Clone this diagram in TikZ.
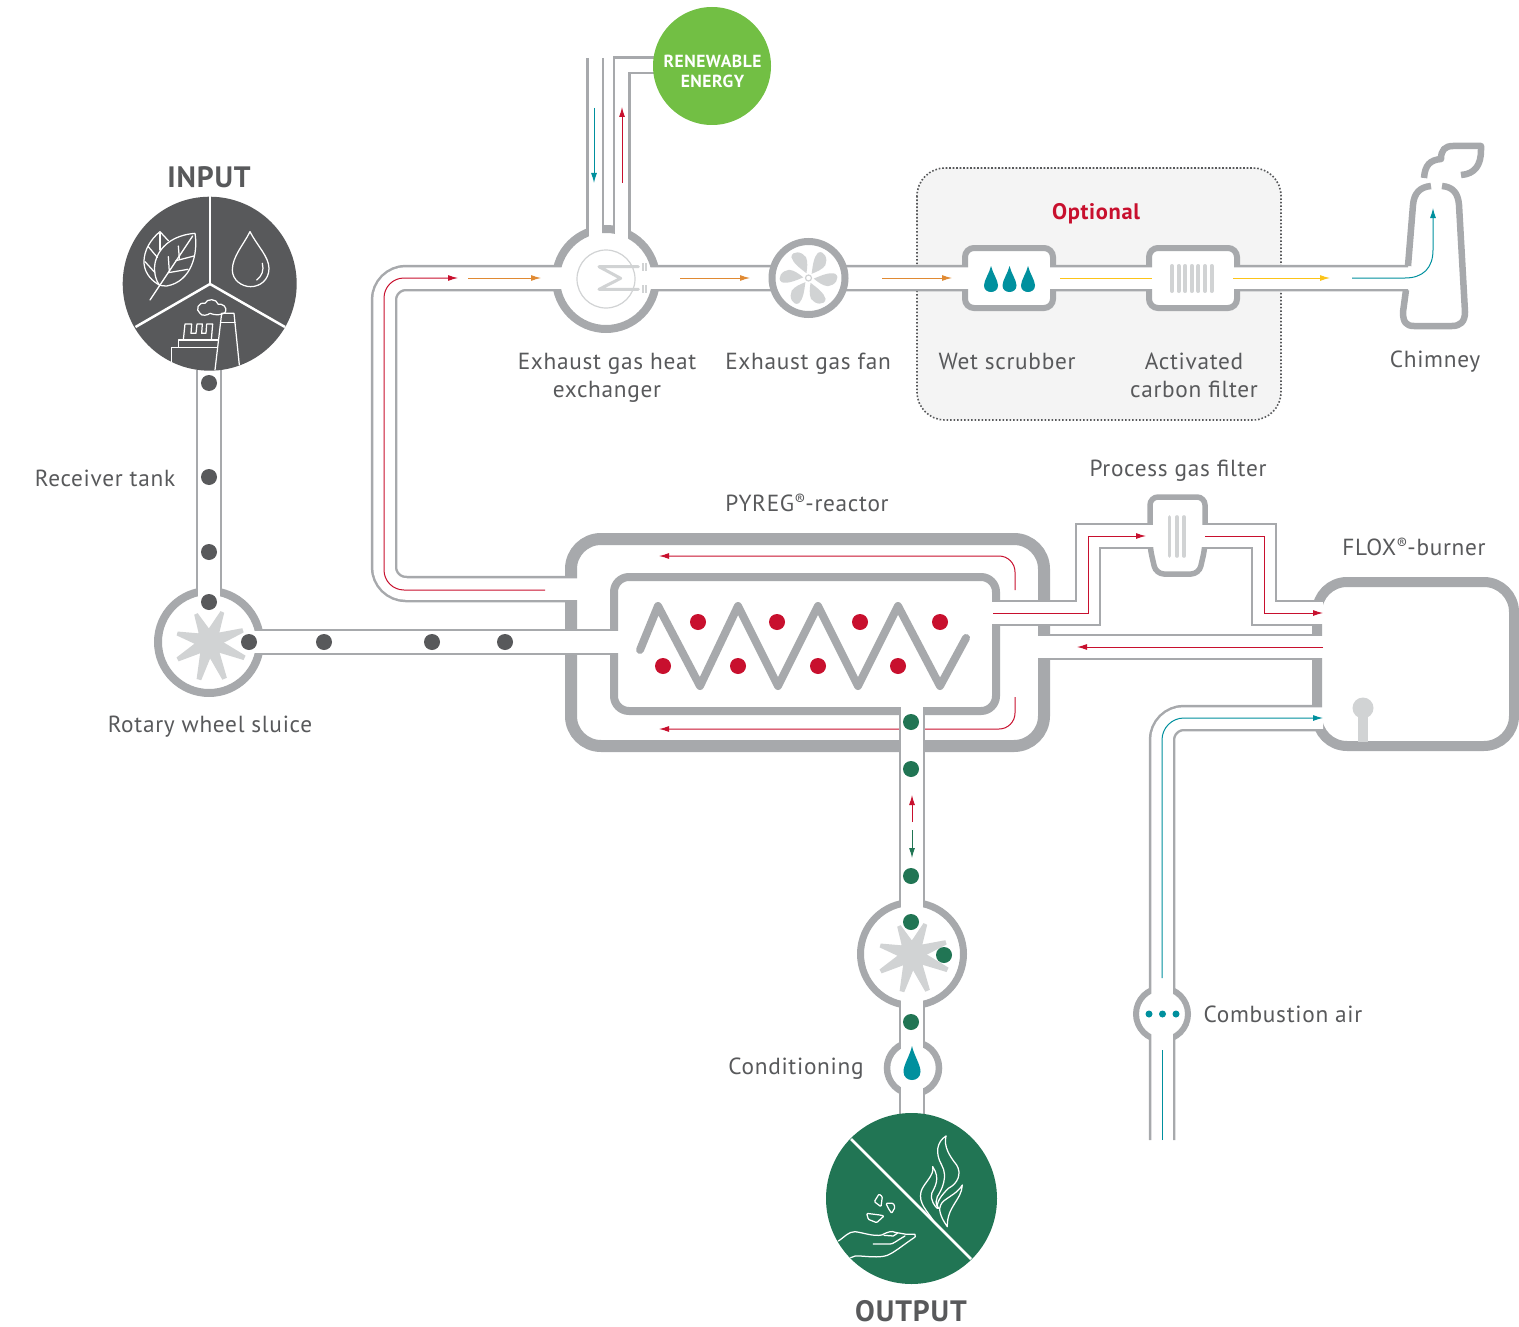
\documentclass[tikz,border=0pt]{standalone}
\usepackage{fontspec}
\setmainfont[LetterSpace=3]{PT Sans}
\usetikzlibrary{arrows.meta}
\definecolor{wallc}{HTML}{A7A9AC}
\definecolor{lightc}{HTML}{D1D3D4}
\definecolor{darkc}{HTML}{58595B}
\definecolor{redc}{HTML}{C8102E}
\definecolor{orangec}{HTML}{E08A33}
\definecolor{yellowc}{HTML}{FCC419}
\definecolor{tealc}{HTML}{00909E}
\definecolor{greenc}{HTML}{217554}
\definecolor{limec}{HTML}{72BF44}
\definecolor{boxc}{HTML}{F4F4F4}
\tikzset{
  pipeedge/.style={draw=wallc,line width=26.5pt},
  pipefill/.style={draw=white,line width=21.5pt},
  pipeedgesm/.style={draw=wallc,line width=18pt},
  pipefillsm/.style={draw=white,line width=13pt},
  wall/.style={draw=wallc,fill=white,line width=#1},
  flow/.style={line width=1pt,-{Latex[length=10pt,width=6pt]}},
  flowplain/.style={line width=1pt},
  icon/.style={draw=white,line width=1.25pt,line join=round,line cap=round},
  lbl/.style={text=darkc,font=\fontsize{23.3}{28}\selectfont,align=center,inner sep=0pt},
  headlbl/.style={text=darkc,font=\fontsize{29.5}{33}\selectfont\bfseries,inner sep=0pt},
}
\newcommand{\regmark}{\raisebox{.28em}{\fontsize{16}{16}\selectfont ®}}
\newcommand{\rotstar}[2]{%
  \fill[lightc] (#1,#2) circle (14);
  \foreach \a/\r in {115/31,66/33,19/36,-24/39,-67/40,255/39,209/36,165/33}{
    \fill[lightc,shift={(#1,#2)}] (-\a-30:12) -- (-\a-3.5:\r) -- (-\a+3.5:\r) -- (-\a+30:12) -- cycle;
  }}
\newcommand{\tealdrop}[4]{% x, ytop, width, height
  \fill[tealc,shift={(#1,#2)},xscale=#3,yscale=#4]
    (0,0) .. controls (-.12,.28) and (-.5,.55) .. (-.5,.75)
    .. controls (-.5,.92) and (-.25,1) .. (0,1)
    .. controls (.25,1) and (.5,.92) .. (.5,.75)
    .. controls (.5,.55) and (.12,.28) .. (0,0) -- cycle;}
\begin{document}
\begin{tikzpicture}[x=1pt,y=-1pt]
\useasboundingbox (0,0) rectangle (1519,1327);

% optional panel
\draw[fill=boxc,draw=darkc,line width=1.6pt,dash pattern=on 1.6pt off 1.9pt,rounded corners=28]
  (917,168) rectangle (1281,420);

% component coordinates
\coordinate (hx) at (606,279);
\coordinate (fan) at (808.5,278);
\coordinate (sluiceA) at (209,642);
\coordinate (sluiceB) at (912,954);
\coordinate (cond) at (913,1068);
\coordinate (air) at (1162,1014);

% reactor and burner walls
\draw[wall=12pt,rounded corners=30] (571,539) rectangle (1044,746);
\draw[wall=8pt,rounded corners=15] (614,577) rectangle (996,711);
\draw[wall=10pt,rounded corners=30] (1317,582) rectangle (1514,746);

% flow lines that run beneath pipes
\draw[flow,redc,rounded corners=16] (1015,590) -- (1015,556) -- (659,556);
\draw[flow,redc,rounded corners=16] (1015,697) -- (1015,729) -- (659,729);

% pipe edges
\draw[pipeedge] (209,370) -- (209,600);
\draw[pipeedge] (250,642) -- (612,642);
\draw[pipeedge,rounded corners=22] (575,589) -- (384,589) -- (384,278) -- (1408,278);
\draw[pipeedgesm] (595,58) -- (595,235);
\draw[pipeedgesm] (621.5,235) -- (621.5,65.5) -- (656,65.5);
\draw[pipeedge] (998,613) -- (1088,613) -- (1088,536) -- (1264,536) -- (1264,613) -- (1316,613);
\draw[pipeedge] (1040,647) -- (1316,647);
\draw[pipeedge,rounded corners=22] (1316,718) -- (1162,718) -- (1162,1140);
\draw[pipeedge] (912,707) -- (912,1118);

% rings and boxes
\draw[wall=8pt] (sluiceA) circle (51);
\draw[wall=8pt] (hx) circle (50);
\draw[wall=7pt] (sluiceB) circle (51.5);
\draw[wall=6.5pt] (cond) circle (26);
\draw[wall=6pt] (air) circle (26);
\draw[wall=6pt,rounded corners=9] (965,248) rectangle (1053,308);
\draw[wall=6pt,rounded corners=9] (1149,248) rectangle (1237,308);
\draw[wall=5.5pt,rounded corners=8] (1150,497) -- (1205,497) -- (1205,524) -- (1205,548)
   -- (1199,574) -- (1156,574) -- (1150,548) -- cycle;

% pipe interiors
\draw[pipefill] (209,368) -- (209,600);
\draw[pipefill] (250,642) -- (620,642);
\draw[pipefill,rounded corners=22] (579,589) -- (384,589) -- (384,278) -- (1413,278);
\draw[pipefillsm] (595,56) -- (595,240);
\draw[pipefillsm] (621.5,240) -- (621.5,65.5) -- (656,65.5);
\draw[pipefill] (990,613) -- (1088,613) -- (1088,536) -- (1264,536) -- (1264,613) -- (1323,613);
\draw[pipefill] (1036,647) -- (1323,647);
\draw[pipefill,rounded corners=22] (1323,718) -- (1162,718) -- (1162,1142);
\draw[pipefill] (912,702) -- (912,1120);

% fan drawn over the pipe
\draw[wall=7pt] (fan) circle (36.5);
\foreach \a in {0,60,...,300}{
  \fill[lightc,shift={(fan)},rotate=\a,scale=1.05]
    (3,-4) .. controls (4,-12) and (5,-20) .. (9,-24)
    .. controls (15,-27) and (19,-18) .. (16,-12)
    .. controls (13,-8) and (8,-6) .. (3,-4) -- cycle;
}
\draw[lightc,line width=1.2pt] (fan) circle (3);

% chimney
\draw[wallc,line width=6.5pt,line cap=butt,line join=round]
  (1408,266) -- (1413,205) .. controls (1414,193) and (1420,187) .. (1431,186);
\draw[wallc,line width=6.5pt,line join=round]
  (1442,186) .. controls (1453,187) and (1458,193) .. (1459,205)
  -- (1465,312) .. controls (1465,322) and (1460,326) .. (1452,326)
  -- (1414,326) .. controls (1406,326) and (1403,322) .. (1403,312) -- (1406,290);
\draw[wallc,line width=6.5pt,line join=round]
  (1424,178) .. controls (1425,165) and (1430,160) .. (1441,159)
  .. controls (1441,150) and (1445,146) .. (1453,146) -- (1481,146)
  -- (1481,150) .. controls (1481,165) and (1475,174) .. (1461,175);

% heat exchanger icon
\draw[lightc,line width=1.2pt] (hx) circle (29);
\begin{scope}[shift={(530,200)},scale=1/3]
  \draw[lightc,line width=3pt,line join=round,line cap=round]
    (325,200) -- (207,200) -- (272,235) -- (207,268) -- (325,268);
  \foreach \y in {200,268}{
    \fill[lightc] (335,\y-12) rectangle (342,\y+12);
    \fill[lightc] (345,\y-12) rectangle (351,\y+12);
  }
\end{scope}

% drops and filter bars
\tealdrop{991}{266}{14}{26}
\tealdrop{1009.5}{266}{14}{26}
\tealdrop{1028}{266}{14}{26}
\foreach \x in {1172,1178.6,...,1215}{
  \draw[lightc,line width=4pt,line cap=round] (\x,266) -- (\x,291);
}
\foreach \x in {1169.5,1177,1184}{
  \draw[lightc,line width=3.6pt,line cap=round] (\x,517) -- (\x,556);
}

% reactor coil
\draw[wallc,line width=8pt,line join=round,line cap=round]
  (640,650) -- (658,606) -- (700,686) -- (738,606) -- (778,686) -- (818,606)
  -- (858,686) -- (898,606) -- (940,686) -- (966,638);
\foreach \x/\y in {698/622,777/622,860/622,940/622,663/666,738/666,818/666,898/666}{
  \fill[redc] (\x,\y) circle (8);
}

% burner lamp
\fill[lightc] (1363,708) circle (10.5);
\fill[lightc] (1358,712) rectangle (1368,742);

% flow arrows
\draw[flow,redc,rounded corners=20] (545,590) -- (384,590) -- (384,278) -- (458,278);
\draw[flow,orangec] (468,278) -- (541,278);
\draw[flow,orangec] (680,278) -- (750,278);
\draw[flow,orangec] (882,278) -- (952,278);
\draw[flowplain,yellowc] (1060,278) -- (1152,278);
\draw[flow,yellowc] (1233,278) -- (1330,278);
\draw[flow,tealc] (1352,278) -- (1405,278) .. controls (1423,278) and (1433,268) .. (1433,250) -- (1433,208);
\draw[flow,tealc] (594,108) -- (594,183);
\draw[flow,redc] (622,183) -- (622,107);
\draw[flow,redc] (993,613) -- (1088,613) -- (1088,536) -- (1146,536);
\draw[flow,redc] (1205,536) -- (1264,536) -- (1264,613) -- (1323,613);
\draw[flow,redc] (1323,647) -- (1077,647);
\draw[flow,tealc,rounded corners=22] (1162,978) -- (1162,718) -- (1323,718);
\draw[flowplain,tealc] (1162,1140) -- (1162,1050);
\draw[flow,redc] (912,822) -- (912,795);
\draw[flow,greenc] (912,830) -- (912,858);

% stars and material dots
\rotstar{209}{642}
\rotstar{912}{954}
\foreach \x/\y in {209/383,209/477,209/552,209/602,249/642,324/642,432/642,505/642}{
  \fill[darkc] (\x,\y) circle (8);
}
\foreach \x/\y in {911/722,911/769,911/876,911/922,944/955,911/1022}{
  \fill[greenc] (\x,\y) circle (8);
}
\tealdrop{912}{1046}{17}{34}
\foreach \x in {1149,1162.5,1176}{ \fill[tealc] (\x,1014) circle (3.5); }

% renewable energy
\node[circle,fill=limec,minimum size=118pt,inner sep=0pt] (renew) at (712,66) {};
\node[text=white,align=center,inner sep=0pt,
      font=\fontsize{17.5}{20}\selectfont\bfseries] (renewtext) at (712.5,71) {RENEWABLE\\ENERGY};

% input disc
\fill[darkc] (209.7,283.7) circle (87);
\draw[white,line width=2.5pt] (210,284) -- (210,196);
\draw[white,line width=2.5pt] (210,284) -- (135.5,327);
\draw[white,line width=2.5pt] (210,284) -- (285,327);
\begin{scope}[shift={(100,150)},scale=1/3]
  \draw[icon] (285,250) .. controls (220,255) and (175,290) .. (165,340)
     .. controls (160,370) and (170,395) .. (178,405)
     .. controls (182,407) and (190,408) .. (200,408)
     .. controls (275,395) and (295,310) .. (285,250) -- cycle;
  \draw[icon] (278,258) -- (150,450);
  \draw[icon] (235,288) -- (238,325);
  \draw[icon] (228,332) -- (282,318);
  \draw[icon] (205,368) -- (264,358);
  \draw[icon] (205,320) -- (208,365);
  \draw[icon] (205,272) -- (180,245) .. controls (155,265) and (130,300) .. (132,340)
     .. controls (135,375) and (160,395) .. (178,405);
  \draw[icon] (180,250) -- (180,300);
  \draw[icon] (145,290) -- (172,322);
  \draw[icon] (135,335) -- (165,368);
  \draw[icon] (450,245) .. controls (430,285) and (397,320) .. (397,360)
     .. controls (397,390) and (425,410) .. (452,410)
     .. controls (480,410) and (507,390) .. (507,355)
     .. controls (507,320) and (470,285) .. (450,245) -- cycle;
  \draw[icon] (487,340) .. controls (493,360) and (485,380) .. (470,390);
  \draw[icon] (345,660) -- (365,490) -- (402,490) -- (418,645);
  \draw[icon] (362,517) -- (405,517);
  \draw[icon] (215,635) -- (215,592) -- (352,592);
  \draw[icon] (235,592) -- (235,570) -- (355,570);
  \draw[icon] (250,570) -- (255,522) -- (275,522) -- (273,550) -- (288,550) -- (291,522)
     -- (307,522) -- (305,550) -- (318,550) -- (320,522) -- (338,522) -- (334,570);
  \draw[icon] (375,488) .. controls (385,470) and (365,460) .. (355,463)
     .. controls (350,445) and (320,445) .. (315,460)
     .. controls (295,455) and (285,480) .. (300,490)
     .. controls (305,500) and (325,495) .. (330,490)
     .. controls (345,497) and (365,495) .. (375,488);
\end{scope}

% output disc
\fill[greenc] (911.5,1198.5) circle (85.5);
\draw[white,line width=2.5pt] (851,1139) -- (971,1259);
\begin{scope}[shift={(810,1100)},scale=1/3]
  \draw[icon] (408,108) .. controls (380,125) and (375,160) .. (395,195)
     .. controls (415,230) and (395,270) .. (382,290)
     .. controls (378,300) and (375,310) .. (385,325);
  \draw[icon] (408,108) .. controls (400,140) and (420,170) .. (440,195)
     .. controls (455,220) and (445,250) .. (415,265)
     .. controls (395,285) and (375,310) .. (385,325);
  \draw[icon] (368,200) .. controls (375,225) and (340,250) .. (333,275)
     .. controls (325,310) and (350,330) .. (372,365);
  \draw[icon] (368,200) .. controls (392,235) and (375,260) .. (365,280)
     .. controls (360,300) and (375,320) .. (382,325);
  \draw[icon] (457,255) .. controls (455,300) and (410,320) .. (412,380)
     .. controls (390,350) and (385,325) .. (392,315)
     .. controls (400,295) and (440,285) .. (457,255) -- cycle;
  \draw[icon] (85,423) .. controls (105,410) and (115,395) .. (135,395)
     .. controls (160,398) and (190,410) .. (215,405)
     .. controls (235,395) and (245,392) .. (255,397)
     -- (290,403) -- (315,403) .. controls (320,408) and (315,412) .. (305,418)
     .. controls (280,435) and (255,455) .. (240,462)
     .. controls (220,475) and (180,470) .. (150,468)
     .. controls (140,465) and (130,470) .. (122,473);
  \draw[icon] (190,432) -- (240,432) .. controls (250,432) and (255,425) .. (285,408);
  \draw[icon] (222,406) -- (250,408) -- (262,400);
  \draw[icon,rounded corners=1pt] (193,305) -- (207,282) -- (217,290) -- (213,320) -- cycle;
  \draw[icon,rounded corners=1pt] (228,310) -- (250,310) -- (255,322) -- (245,340) -- (235,325) -- cycle;
  \draw[icon,rounded corners=1pt] (170,340) -- (210,345) -- (222,348) -- (200,368) -- (175,358) -- cycle;
\end{scope}

% labels
\node[headlbl] (tInput) at (209,177) {INPUT};
\node[headlbl] (tOutput) at (911,1311) {OUTPUT};
\node[lbl] (tReceiver) at (105,478) {Receiver tank};
\node[lbl] (tSluice) at (210,727) {Rotary wheel sluice};
\node[lbl] (tHx) at (607,378) {Exhaust gas heat\\exchanger};
\node[lbl] (tFan) at (808,364) {Exhaust gas fan};
\node[lbl] (tWet) at (1007,361) {Wet scrubber};
\node[lbl] (tCarbon) at (1194,375) {Activated\\carbon filter};
\node[lbl] (tChimney) at (1435,362) {Chimney};
\node[text=redc,font=\fontsize{22.5}{28}\selectfont\bfseries,inner sep=0pt] (tOpt) at (1096,214) {Optional};
\node[lbl] (tReactor) at (807,503) {PYREG\regmark-reactor};
\node[lbl] (tGasFilter) at (1178,471) {Process gas filter};
\node[lbl] (tFlox) at (1414,547) {FLOX\regmark-burner};
\node[lbl] (tAir) at (1283,1014) {Combustion air};
\node[lbl] (tCond) at (796,1069) {Conditioning};
\end{tikzpicture}
\end{document}
